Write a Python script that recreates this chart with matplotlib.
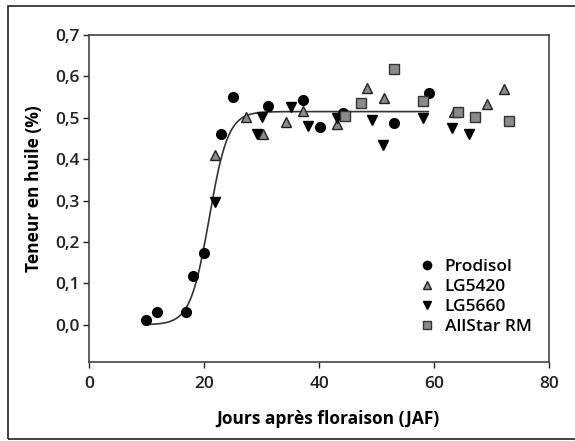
import numpy as np
import matplotlib.pyplot as plt
from matplotlib.patches import Rectangle

plt.rcParams['font.family'] = ['Open Sans', 'DejaVu Sans']

# Prodisol
pro_x = [9.9, 11.9, 16.9, 18.1, 20.0, 23.0, 25.0, 31.1, 37.2, 40.1, 44.1, 53.1, 59.2]
pro_y = [0.012, 0.03, 0.03, 0.119, 0.173, 0.46, 0.551, 0.528, 0.543, 0.478, 0.511, 0.488, 0.561]

# LG5420
lg420_x = [21.9, 27.3, 30.3, 34.2, 37.2, 43.1, 48.3, 51.3, 63.4, 69.2, 72.2]
lg420_y = [0.41, 0.503, 0.461, 0.49, 0.517, 0.485, 0.571, 0.547, 0.515, 0.533, 0.569]

# LG5660
lg660_x = [21.9, 29.2, 30.0, 35.1, 38.1, 43.1, 49.3, 51.2, 58.1, 63.2, 66.1]
lg660_y = [0.297, 0.462, 0.503, 0.527, 0.48, 0.499, 0.495, 0.434, 0.499, 0.475, 0.461]

# AllStar RM
as_x = [44.5, 47.3, 53.0, 58.1, 64.1, 67.1, 73.1]
as_y = [0.504, 0.535, 0.618, 0.541, 0.515, 0.503, 0.493]

# fitted logistic curve (plateau, midpoint, slope)
fit_top = 0.515
fit_mid = 20.9
fit_k = 1.64
fit_range = (10, 59)

fig = plt.figure(figsize=(5.75, 4.41), dpi=100)
ax = fig.add_axes([0.1548, 0.1791, 0.80, 0.7415])

# border around the whole figure
fig.patches.append(Rectangle((0.014, 0.005), 1.2, 0.982, transform=fig.transFigure,
                             fill=False, edgecolor='#222222', linewidth=1.2))

xf = np.linspace(fit_range[0], fit_range[1], 300)
yf = fit_top / (1 + np.exp(-(xf - fit_mid) / fit_k))
ax.plot(xf, yf, color='#333333', linewidth=1.2, zorder=2)

ax.plot(pro_x, pro_y, 'o', ms=7, color='black', mec='black', label='Prodisol', zorder=3)
ax.plot(lg420_x, lg420_y, '^', ms=7.5, color='#8a8a8a', mec='#222222', mew=1.0,
        label='LG5420', zorder=3)
ax.plot(lg660_x, lg660_y, 'v', ms=7.5, color='black', mec='black', label='LG5660', zorder=3)
ax.plot(as_x, as_y, 's', ms=7, color='#8a8a8a', mec='#333333', mew=1.0,
        label='AllStar RM', zorder=3)

ax.set_xlim(0, 80)
ax.set_ylim(-0.09, 0.7)
ax.set_xticks([0, 20, 40, 60, 80])
yt = [0.0, 0.1, 0.2, 0.3, 0.4, 0.5, 0.6, 0.7]
ax.set_yticks(yt)
ax.set_yticklabels([f'{v:.1f}'.replace('.', ',') for v in yt])
ax.tick_params(direction='out', length=4, width=1, labelsize=12.5, colors='#222222')
ax.tick_params(axis='x', pad=6)
ax.tick_params(axis='y', pad=3)
for lab in ax.get_xticklabels() + ax.get_yticklabels():
    lab.set_fontweight('semibold')
for s in ax.spines.values():
    s.set_color('#444444')
    s.set_linewidth(1.2)

ax.set_xlabel('Jours après floraison (JAF)', fontsize=12.5, fontweight='bold')
ax.set_ylabel('Teneur en huile (%)', fontsize=12.5, fontweight='bold')
ax.xaxis.set_label_coords(0.52, -0.147)
ax.yaxis.set_label_coords(-0.1, 0.53)

leg = ax.legend(loc='lower right', bbox_to_anchor=(0.977, 0.062), frameon=False, fontsize=12.5,
                handletextpad=0.5, labelspacing=0.22, handlelength=1.0, borderaxespad=0,
                markerscale=0.85)
for t in leg.get_texts():
    t.set_fontweight('semibold')

fig.savefig('out.png', dpi=100)
